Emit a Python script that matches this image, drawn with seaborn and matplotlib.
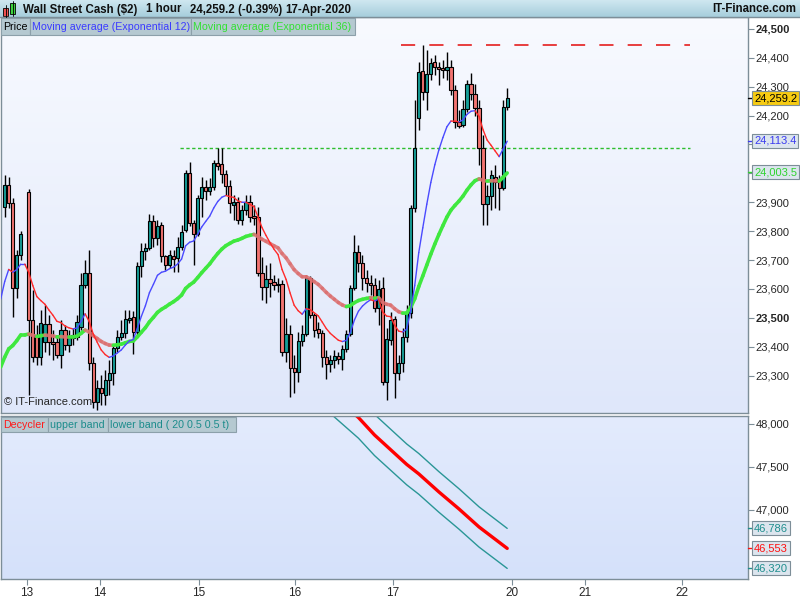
import numpy as np
import pandas as pd
import seaborn as sns
import matplotlib.pyplot as plt
from matplotlib.collections import LineCollection
from matplotlib.patches import Rectangle
import matplotlib.transforms as mtransforms

sns.set_style("white")
plt.rcParams['font.family'] = ['Liberation Sans', 'DejaVu Sans']

# Wall Street Cash ($2), 1 hour candles, 13 -> 17 Apr 2020 (nan = empty slot)
nan = np.nan
opens = [23884, 23960, 23898, 23604, 23718, nan, 23936, 23493, 23441, 23365,
         23417, 23479, 23417, 23417, 23372, 23459, 23407, 23431, 23434, 23469,
         23614, 23656, 23344, 23209, 23258, 23234, 23285, 23310, 23396, 23434,
         23448, 23493, 23503, 23452, 23680, 23732, 23742, 23836, 23777, 23822,
         23715, 23683, 23715, 23708, 23746, 23805, 24002, 23829, 23791, 23915,
         23953, 23940, 23953, 24036, 24033, 23998, 23957, 23891, 23901, 23839,
         23874, 23901, 23853, 23850, 23656, 23607, 23635, 23625, 23614, 23618,
         23382, 23445, 23327, 23313, 23420, 23445, 23638, 23510, 23462, 23448,
         23365, 23341, 23355, 23369, 23358, 23393, 23445, 23604, 23728, 23690,
         23638, 23621, 23614, 23535, 23604, 23279, 23424, 23497, 23310, 23344,
         23434, 23517, 23881, 24192, 24355, 24282, 24344, 24386, 24368, 24365,
         24358, 24368, 24289, 24178, 24168, 24223, 24310, 24275, 24227, 24088,
         23895, 23922, 23988, 23981, 23950, 24230]
highs = [23995, 23988, 23915, 23735, 23801, nan, 23946, 23597, 23476, 23528,
         23545, 23510, 23459, 23441, 23493, 23476, 23459, 23466, 23510, 23656,
         23701, 23735, 23365, 23285, 23303, 23320, 23355, 23407, 23459, 23493,
         23528, 23528, 23524, 23694, 23760, 23760, 23860, 23857, 23839, 23832,
         23718, 23735, 23735, 23780, 23822, 24012, 24040, 23839, 23926, 23988,
         23978, 23985, 24047, 24088, 24088, 24012, 23978, 23926, 23919, 23891,
         23926, 23926, 23891, 23884, 23711, 23683, 23690, 23649, 23638, 23632,
         23500, 23476, 23372, 23452, 23476, 23649, 23645, 23517, 23486, 23459,
         23389, 23372, 23389, 23382, 23407, 23459, 23614, 23787, 23753, 23718,
         23666, 23649, 23638, 23632, 23642, 23466, 23521, 23507, 23372, 23466,
         23545, 23891, 24254, 24386, 24445, 24427, 24400, 24410, 24386, 24393,
         24420, 24393, 24306, 24220, 24254, 24324, 24348, 24310, 24254, 24133,
         23960, 24012, 24030, 23995, 24254, 24296]
lows = [23850, 23881, 23503, 23569, 23701, nan, 23234, 23348, 23337, 23337,
        23382, 23372, 23355, 23362, 23327, 23389, 23382, 23407, 23424, 23459,
        23604, 23320, 23189, 23182, 23199, 23199, 23234, 23268, 23382, 23424,
        23431, 23483, 23375, 23441, 23642, 23701, 23735, 23746, 23753, 23694,
        23666, 23673, 23659, 23659, 23735, 23798, 23818, 23683, 23784, 23850,
        23908, 23926, 23943, 24012, 23967, 23926, 23863, 23839, 23825, 23822,
        23857, 23832, 23822, 23645, 23562, 23552, 23573, 23597, 23590, 23369,
        23348, 23227, 23240, 23279, 23403, 23438, 23500, 23434, 23431, 23330,
        23289, 23313, 23327, 23341, 23320, 23382, 23438, 23597, 23659, 23597,
        23590, 23580, 23521, 23476, 23268, 23216, 23407, 23223, 23285, 23313,
        23417, 23500, 23867, 24151, 24254, 24220, 24324, 24341, 24306, 24330,
        24324, 24272, 24157, 24157, 24161, 24213, 24254, 24199, 24030, 23822,
        23822, 23874, 23881, 23874, 23943, 24220]
closes = [23960, 23898, 23604, 23718, 23791, nan, 23493, 23365, 23365, 23483,
          23479, 23417, 23410, 23372, 23459, 23407, 23431, 23441, 23486, 23614,
          23656, 23344, 23209, 23258, 23240, 23285, 23310, 23396, 23434, 23448,
          23497, 23500, 23452, 23680, 23732, 23742, 23836, 23777, 23818, 23715,
          23683, 23718, 23704, 23746, 23798, 24002, 23829, 23791, 23915, 23953,
          23940, 23953, 24036, 24026, 23998, 23957, 23898, 23901, 23839, 23874,
          23901, 23850, 23846, 23656, 23607, 23635, 23621, 23614, 23618, 23382,
          23445, 23327, 23313, 23420, 23445, 23638, 23510, 23459, 23448, 23365,
          23341, 23355, 23369, 23358, 23393, 23445, 23604, 23728, 23690, 23638,
          23621, 23614, 23535, 23600, 23279, 23427, 23493, 23310, 23344, 23434,
          23517, 23881, 24088, 24351, 24282, 24344, 24382, 24368, 24362, 24358,
          24368, 24289, 24178, 24164, 24223, 24310, 24275, 24227, 24088, 23895,
          23922, 23995, 23971, 23950, 24230, 24259.2]

# moving averages: values at the left edge of the chart
ema12_start = 23565
ema36_start = 23330
ema12_last = 24113.4
ema36_last = 24003.5

# horizontal levels
level_high = 24445
level_prev = 24088

# decycler (20, 0.5, 0.5) read at candle positions
dec_idx = [78, 82, 88, 92, 100, 103, 108, 113, 118, 125]
dec_val = [48500, 48323, 48075, 47872, 47530, 47420, 47210, 47012, 46802, 46553]
band_pct = 0.5
upper_last = 46786
dec_last = 46553
lower_last = 46320

# axes ticks (labels under the value boxes are hidden in the original)
day_pos = [5.5, 23.7, 48.3, 72.2, 96.5, 126.2, 144.4, 168.5]
day_labels = ['13', '14', '15', '16', '17', '20', '21', '22']
price_ticks = [23300, 23400, 23500, 23600, 23700, 23800, 23900,
               24000, 24100, 24200, 24300, 24400, 24500]
hidden_ticks = [24000, 24100]
dec_ticks = [47000, 47500, 48000]

TEAL = '#169E98'
RED = '#F27471'
BORDER = '#7D8E98'

W, H = 800, 600


def fx(px):
    return px / W


def fy(py):
    return 1 - py / H


def gradient(ax, top, bottom):
    c1 = np.array(plt.matplotlib.colors.to_rgb(top))
    c2 = np.array(plt.matplotlib.colors.to_rgb(bottom))
    t = np.linspace(0, 1, 200)[:, None, None]
    img = c1 * (1 - t) + c2 * t
    ax.imshow(img, extent=[0, 1, 0, 1], transform=ax.transAxes,
              aspect='auto', zorder=0, interpolation='bilinear')


def ema(values, start, span):
    a = 2 / (span + 1)
    out = []
    prev = start
    for v in values:
        if not np.isnan(v):
            prev = prev + a * (v - prev)
        out.append(prev)
    return np.array(out)


def slope_line(ax, xs, ys, up_col, down_col, lw, alpha_down=1.0):
    pts = np.column_stack([xs, ys])
    segs = np.stack([pts[:-1], pts[1:]], axis=1)
    rising = np.diff(ys) >= 0
    cols = [plt.matplotlib.colors.to_rgba(up_col) if r else
            plt.matplotlib.colors.to_rgba(down_col, alpha_down) for r in rising]
    lc = LineCollection(segs, colors=cols, linewidths=lw, zorder=5,
                        capstyle='round', joinstyle='round')
    ax.add_collection(lc)


def value_box(ax, val, text, color, fc):
    tr = mtransforms.blended_transform_factory(ax.transAxes, ax.transData)
    ax.plot([1.0, 1.007], [val, val], color=color, lw=1, transform=tr,
            clip_on=False, zorder=6)
    ax.text(1.008, val, text, transform=tr, ha='left', va='center',
            fontsize=8, color=color, zorder=7, clip_on=False,
            bbox=dict(boxstyle='square,pad=0.18', fc=fc, ec=BORDER, lw=0.8))


fig = plt.figure(figsize=(8, 6), dpi=100)
fig.patch.set_facecolor('white')

ax = fig.add_axes([fx(1), fy(413), fx(748) - fx(1), fy(17) - fy(413)])
ax2 = fig.add_axes([fx(1), fy(579), fx(748) - fx(1), fy(416) - fy(579)], sharex=ax)

gradient(ax, '#F8FAFF', '#DFE7FA')
gradient(ax2, '#E3EBFD', '#D5E1FA')

idx = np.arange(len(closes))
o = np.array(opens, float)
h = np.array(highs, float)
l = np.array(lows, float)
c = np.array(closes, float)
ok = ~np.isnan(c)

ax.vlines(idx[ok], l[ok], h[ok], color='black', lw=1, zorder=3)
for mask, col in [(ok & (c >= o), TEAL), (ok & (c < o), RED)]:
    bottom = np.minimum(o, c)[mask]
    height = np.maximum(np.abs(c - o)[mask], 3)
    ax.bar(idx[mask], height, bottom=bottom, width=0.8, color=col,
           edgecolor='black', linewidth=0.8, zorder=4)

e12 = ema(c, ema12_start, 12)
e36 = ema(c, ema36_start, 36)
xs = np.concatenate([[-1], idx])
slope_line(ax, xs, np.concatenate([[ema36_start], e36]), '#3FE83F', '#DC7070', 2.6, 0.85)
slope_line(ax, xs, np.concatenate([[ema12_start], e12]), '#4A4AFF', '#FF2A2A', 1.0)

ax.hlines(level_high, 98.5, 170.5, colors='#E41E1E', lw=1.2, linestyles=(0, (8.5, 8.5)), zorder=2)
ax.hlines(level_prev, 43.6, 170.5, colors='#2EBE2E', lw=1.0, linestyles=(0, (2.4, 1.8)), zorder=2)

xmin, xmax = -0.92, 184.9
ax.set_xlim(xmin, xmax)
ax.set_ylim(23171, 24541)
ax.yaxis.tick_right()
ax.set_yticks(price_ticks, ['' if v in hidden_ticks else f'{v:,}' for v in price_ticks])
for lab, v in zip(ax.get_yticklabels(), price_ticks):
    if v in (23500, 24500):
        lab.set_fontweight('bold')
        lab.set_fontsize(9)
ax.tick_params(axis='y', direction='out', length=4, width=0.8, color=BORDER,
               labelsize=8, pad=1.5)
ax.tick_params(axis='x', bottom=False, labelbottom=False)

value_box(ax, closes[-1], f'{closes[-1]:,.1f}', 'black', '#F6CB12')
value_box(ax, ema12_last, f'{ema12_last:,.1f}', '#3B3BF0', '#DCE5EE')
value_box(ax, ema36_last, f'{ema36_last:,.1f}', '#2ED42E', '#DCE5EE')

ax.text(0.004, 0.014, '© IT-Finance.com', transform=ax.transAxes, fontsize=8,
        ha='left', va='bottom', zorder=6)

# decycler panel
upper = [v * (1 + band_pct / 100) for v in dec_val]
lower = [v * (1 - band_pct / 100) for v in dec_val]
sns.lineplot(x=dec_idx, y=upper, ax=ax2, color='#2A9696', lw=1)
sns.lineplot(x=dec_idx, y=lower, ax=ax2, color='#2A9696', lw=1)
sns.lineplot(x=dec_idx, y=dec_val, ax=ax2, color='#FF0000', lw=2.4)
ax2.set(xlabel='', ylabel='')
ax2.set_xlim(xmin, xmax)
ax2.set_ylim(46197, 48093)
ax2.yaxis.tick_right()
ax2.set_yticks(dec_ticks, [f'{v:,}' for v in dec_ticks])
ax2.set_xticks(day_pos, day_labels)
ax2.tick_params(axis='y', direction='out', length=4, width=0.8, color=BORDER,
                labelsize=8, pad=1.5)
ax2.tick_params(axis='x', direction='out', length=4, width=0.8, color=BORDER,
                labelsize=8.5, pad=2, bottom=True)

value_box(ax2, upper_last, f'{upper_last:,}', '#1F8E8E', '#DCE5EE')
value_box(ax2, dec_last, f'{dec_last:,}', '#FF1010', '#DCE5EE')
value_box(ax2, lower_last, f'{lower_last:,}', '#1F8E8E', '#DCE5EE')

for a in (ax, ax2):
    for s in a.spines.values():
        s.set_color(BORDER)
        s.set_linewidth(1)

# overlay in pixel coordinates for the header and legends
ov = fig.add_axes([0, 0, 1, 1], zorder=10)
ov.axis('off')
ov.patch.set_visible(False)

t = np.linspace(0, 1, 40)[:, None, None]
hdr = (np.array(plt.matplotlib.colors.to_rgb('#CFE7F0')) * (1 - t)
       + np.array(plt.matplotlib.colors.to_rgb('#A6CEDC')) * t)
ov.imshow(hdr, extent=[0, W, 17, 0], aspect='auto', zorder=0)
ov.set_xlim(0, W)
ov.set_ylim(H, 0)
ov.plot([0, W], [17, 17], color=BORDER, lw=1)

ov.add_patch(Rectangle((3, 8), 5, 8, fc='#EE5050', ec='black', lw=0.6))
ov.add_patch(Rectangle((10, 3), 5, 11, fc='#3CD23C', ec='black', lw=0.6))
ov.plot([5.5, 5.5], [5, 18], color='black', lw=0.6)
ov.plot([12.5, 12.5], [1, 16], color='black', lw=0.6)

hkw = dict(fontsize=8.3, fontweight='bold', va='center', ha='left', color='#101010')
ov.text(23, 9.5, 'Wall Street Cash ($2)', **hkw)
ov.text(146, 9.5, '1 hour', **hkw)
ov.text(190, 9.5, '24,259.2 (-0.39%)', **hkw)
ov.text(285, 9.5, '17-Apr-2020', **hkw)
ov.text(796, 9.5, 'IT-Finance.com', fontsize=8.3, fontweight='bold',
        va='center', ha='right', color='#101010')

legend_top = [('Price', 1, 30, 'black'),
              ('Moving average (Exponential 12)', 30, 191, '#3B3BFF'),
              ('Moving average (Exponential 36)', 191, 355, '#33E033')]
legend_low = [('Decycler', 1, 48, '#FF1A1A'),
              ('upper band', 48, 108, '#1C8C8C'),
              ('lower band ( 20 0.5 0.5 t)', 108, 236, '#1C8C8C')]
for items, y0, y1 in [(legend_top, 18, 35), (legend_low, 417, 432)]:
    for text, x0, x1, col in items:
        ov.add_patch(Rectangle((x0, y0), x1 - x0, y1 - y0, fc='#B5C9D1',
                               ec='#8CA0AA', lw=0.8, zorder=2))
        ov.text(x0 + 2, (y0 + y1) / 2 + 0.5, text, fontsize=7.7, color=col,
                va='center', ha='left', zorder=3)

fig.savefig('out.png', dpi=100)
